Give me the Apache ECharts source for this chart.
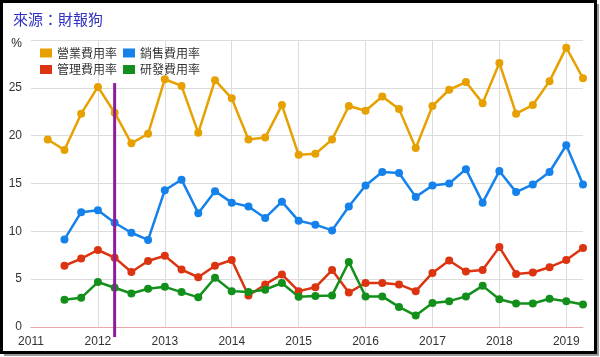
<!DOCTYPE html>
<html>
<head>
<meta charset="utf-8">
<script src="https://cdn.jsdelivr.net/npm/echarts@6/dist/echarts.min.js"></script>
<style>
html,body{margin:0;padding:0;background:#fff;}
#chart{width:600px;height:357px;}
</style>
</head>
<body>
<div id="chart"></div>
<script>
const quarters = [2011.25,2011.5,2011.75,2012,2012.25,2012.5,2012.75,2013,2013.25,2013.5,2013.75,2014,2014.25,2014.5,2014.75,2015,2015.25,2015.5,2015.75,2016,2016.25,2016.5,2016.75,2017,2017.25,2017.5,2017.75,2018,2018.25,2018.5,2018.75,2019,2019.25];
const seriesNames = ['營業費用率','銷售費用率','管理費用率','研發費用率'];
const operating = [19.6,18.5,22.3,25.1,22.4,19.2,20.2,25.9,25.2,20.3,25.8,23.9,19.6,19.8,23.2,18.0,18.1,19.6,23.1,22.6,24.1,22.8,18.7,23.1,24.8,25.6,23.4,27.6,22.3,23.2,25.7,29.2,26.0];
const selling = [null,9.15,12.0,12.2,10.9,9.85,9.1,14.3,15.4,11.9,14.2,13.0,12.6,11.4,13.1,11.1,10.7,10.1,12.6,14.8,16.2,16.1,13.6,14.8,15.0,16.5,13.0,16.3,14.1,14.9,16.2,19.0,14.9];
const admin = [null,6.4,7.15,8.05,7.25,5.75,6.9,7.45,6.0,5.2,6.4,7.0,3.3,4.45,5.5,3.75,4.15,5.95,3.6,4.6,4.6,4.45,3.75,5.65,6.95,5.8,5.95,8.35,5.55,5.7,6.25,7.0,8.25];
const rnd = [null,2.85,3.05,4.7,4.1,3.5,4.0,4.2,3.65,3.1,5.15,3.75,3.65,3.9,4.6,3.15,3.25,3.3,6.8,3.2,3.2,2.1,1.2,2.5,2.7,3.2,4.3,2.9,2.45,2.45,2.95,2.7,2.35];
const markerX = [2012.25, 2012.25];
const markerY = [25.5, -1.05];
const yTicks = [0,5,10,15,20,25];
const xTicks = [2011,2012,2013,2014,2015,2016,2017,2018,2019];
const colors = ['#E6A100','#1581EA','#DC3410','#13901B'];

function pair(vals){ return quarters.map((q,i)=>[q, vals[i]]).filter(p=>p[1]!==null); }

const chart = echarts.init(document.getElementById('chart'), null, {renderer:'canvas'});
const lineSeries = [operating, selling, admin, rnd].map((vals, i) => ({
  name: seriesNames[i],
  type: 'line',
  data: pair(vals),
  symbol: 'circle',
  symbolSize: 8,
  lineStyle: {width: 2.5, color: colors[i]},
  itemStyle: {color: colors[i]},
  emphasis: {disabled: true},
  z: 3
}));
lineSeries.push({
  name: 'marker',
  type: 'line',
  data: markerX.map((x,i)=>[x, markerY[i]]),
  showSymbol: false,
  symbol: 'none',
  clip: false,
  lineStyle: {width: 3, color: '#8E1C9C'},
  z: 5
});

const legendText = {fontSize: 12, color: '#333', fontFamily: '"Noto Sans CJK TC", sans-serif'};
chart.setOption({
  animation: false,
  color: colors,
  textStyle: {fontFamily: 'Arial, "Liberation Sans", "Noto Sans CJK TC", sans-serif'},
  title: {
    text: '來源：財報狗',
    left: 8, top: 7,
    textStyle: {fontSize: 15, fontWeight: 'normal', color: '#3131C4', fontFamily: '"Noto Sans CJK TC", sans-serif'}
  },
  legend: [
    {data: seriesNames.slice(0,2), left: 40, top: 47, padding: 0, itemWidth: 12, itemHeight: 9, itemGap: 6, icon: 'rect', textStyle: legendText},
    {data: seriesNames.slice(2,4), left: 40, top: 63.5, padding: 0, itemWidth: 12, itemHeight: 9, itemGap: 6, icon: 'rect', textStyle: legendText}
  ],
  grid: {left: 31, right: 17, top: 40, bottom: 30, containLabel: false},
  xAxis: {
    type: 'value', min: xTicks[0], max: 2019.25, interval: 1,
    axisLine: {show: true, onZero: true, lineStyle: {color: '#E8A6A6', width: 1}},
    axisTick: {show: false},
    splitLine: {show: true, showMinLine: false, showMaxLine: false, lineStyle: {color: '#DCDCDC', width: 1}},
    axisLabel: {color: '#333', fontSize: 12, margin: 9, showMaxLabel: false,
      formatter: v => xTicks.indexOf(v) >= 0 ? String(v) : ''}
  },
  yAxis: {
    type: 'value', min: 0, max: 30, interval: 5,
    axisLine: {show: false}, axisTick: {show: false},
    splitLine: {lineStyle: {color: '#DCDCDC', width: 1}},
    axisLabel: {color: '#333', fontSize: 12, margin: 9,
      formatter: v => v === 30 ? '{p|%}' : (yTicks.indexOf(v) >= 0 ? String(v) : ''),
      rich: {p: {fontSize: 12, color: '#222', padding: [7, 0, 0, 0]}}}
  },
  graphic: [
    {type: 'rect', shape: {x: 597, y: 4, width: 2, height: 352}, style: {fill: '#999'}, z: 100},
    {type: 'rect', shape: {x: 4, y: 354, width: 595, height: 2}, style: {fill: '#999'}, z: 100},
    {type: 'rect', shape: {x: 1.5, y: 1.5, width: 594, height: 351}, style: {fill: 'none', stroke: '#000', lineWidth: 3}, z: 100}
  ],
  series: lineSeries
});
</script>
</body>
</html>
